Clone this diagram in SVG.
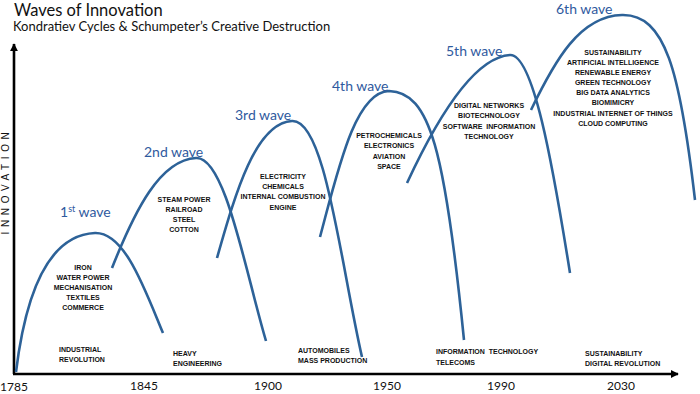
<svg xmlns="http://www.w3.org/2000/svg" width="700" height="394" viewBox="0 0 700 394">
<defs>
<marker id="ah" viewBox="0 0 10 10" refX="9" refY="5" markerWidth="3.2" markerHeight="3.2" orient="auto" markerUnits="strokeWidth">
<path d="M0,0 L10,5 L0,10 z" fill="#000"/>
</marker>
<style>
.curve{fill:none;stroke:#2D6298;stroke-width:2.6;stroke-linecap:butt}
.wl{font-family:Lato,"Open Sans",sans-serif;font-size:14px;fill:#2F5A9E}
.t{font-family:"Liberation Sans",Arial,sans-serif;font-weight:bold;font-size:7px;fill:#111;text-anchor:middle}
.b{font-family:"Liberation Sans",Arial,sans-serif;font-weight:bold;font-size:7px;fill:#111}
.yr{font-family:Lato,"Open Sans",sans-serif;font-size:12px;fill:#111}
.axis{stroke:#000;stroke-width:2.6;fill:none}
</style>
</defs>
<rect width="700" height="394" fill="#fff"/>
<g id="title">
<text x="14" y="16" font-family="Lato,'Open Sans',sans-serif" font-size="16.5" fill="#111">Waves of Innovation</text>
<text x="13" y="31" font-family="Lato,'Open Sans',sans-serif" font-size="13" fill="#111">Kondratiev Cycles &amp; Schumpeter’s Creative Destruction</text>
</g>
<g id="axes">
<line class="axis" x1="14" y1="374" x2="14" y2="44" marker-end="url(#ah)"/>
<line class="axis" x1="13" y1="374" x2="678" y2="374" marker-end="url(#ah)"/>
<text transform="translate(9,181) rotate(-90)" text-anchor="middle" font-family="'Liberation Sans',Arial,sans-serif" font-size="10" letter-spacing="4.6" fill="#111">INNOVATION</text>
</g>
<g id="years">
<text class="yr" x="0" y="391">1785</text>
<text class="yr" x="130" y="390">1845</text>
<text class="yr" x="254" y="390">1900</text>
<text class="yr" x="373" y="390">1950</text>
<text class="yr" x="487" y="390">1990</text>
<text class="yr" x="607" y="390">2030</text>
</g>
<g id="wave1">
<path class="curve" d="M16,372 C26,290 50,235 95,233 C125,232 145,290 163,333"/>
<text class="wl" x="60" y="217">1<tspan font-size="9" dy="-5">st</tspan><tspan dy="5"> wave</tspan></text>
<text class="t" x="83" y="270">IRON</text>
<text class="t" x="83" y="280">WATER POWER</text>
<text class="t" x="83" y="290">MECHANISATION</text>
<text class="t" x="83" y="300">TEXTILES</text>
<text class="t" x="83" y="310">COMMERCE</text>
<text class="b" x="59" y="352">INDUSTRIAL</text>
<text class="b" x="59" y="362">REVOLUTION</text>
</g>
<g id="wave2">
<path class="curve" d="M112,268 C135,210 160,160 196,158 C225,156 245,270 266,341"/>
<text class="wl" x="144" y="157">2nd wave</text>
<text class="t" x="184" y="202">STEAM POWER</text>
<text class="t" x="184" y="212">RAILROAD</text>
<text class="t" x="184" y="222">STEEL</text>
<text class="t" x="184" y="232">COTTON</text>
<text class="b" x="173" y="356">HEAVY</text>
<text class="b" x="173" y="366">ENGINEERING</text>
</g>
<g id="wave3">
<path class="curve" d="M217,258 C235,195 255,123 292,121 C325,119 340,260 362,357"/>
<text class="wl" x="235" y="120">3rd wave</text>
<text class="t" x="283" y="179">ELECTRICITY</text>
<text class="t" x="283" y="189">CHEMICALS</text>
<text class="t" x="283" y="199">INTERNAL COMBUSTION</text>
<text class="t" x="283" y="210">ENGINE</text>
<text class="b" x="298" y="353">AUTOMOBILES</text>
<text class="b" x="298" y="363">MASS PRODUCTION</text>
</g>
<g id="wave4">
<path class="curve" d="M320,237 C338,170 355,92 389,91 C430,92 445,150 464,340"/>
<text class="wl" x="332" y="91">4th wave</text>
<text class="t" x="389" y="138">PETROCHEMICALS</text>
<text class="t" x="389" y="148">ELECTRONICS</text>
<text class="t" x="389" y="159">AVIATION</text>
<text class="t" x="389" y="169">SPACE</text>
<text class="b" x="436" y="354" xml:space="preserve">INFORMATION  TECHNOLOGY</text>
<text class="b" x="436" y="365">TELECOMS</text>
</g>
<g id="wave5">
<path class="curve" d="M407,183 C420,155 465,58 510,55 C533,54 552,160 570,273"/>
<text class="wl" x="446" y="56">5th wave</text>
<text class="t" x="489" y="108">DIGITAL NETWORKS</text>
<text class="t" x="489" y="118">BIOTECHNOLOGY</text>
<text class="t" x="489" y="129" xml:space="preserve">SOFTWARE  INFORMATION</text>
<text class="t" x="489" y="139">TECHNOLOGY</text>
<text class="b" x="585" y="356">SUSTAINABILITY</text>
<text class="b" x="585" y="366">DIGITAL REVOLUTION</text>
</g>
<g id="wave6">
<path class="curve" d="M531,110 C555,60 580,16 622,15 C665,14 680,70 695,200"/>
<text class="wl" x="556" y="14">6th wave</text>
<text class="t" x="613" y="55">SUSTAINABILITY</text>
<text class="t" x="613" y="65">ARTIFICIAL INTELLIGENCE</text>
<text class="t" x="613" y="75">RENEWABLE ENERGY</text>
<text class="t" x="613" y="85">GREEN TECHNOLOGY</text>
<text class="t" x="613" y="95">BIG DATA ANALYTICS</text>
<text class="t" x="613" y="105">BIOMIMICRY</text>
<text class="t" x="613" y="116">INDUSTRIAL INTERNET OF THINGS</text>
<text class="t" x="613" y="126">CLOUD COMPUTING</text>
</g>
</svg>
